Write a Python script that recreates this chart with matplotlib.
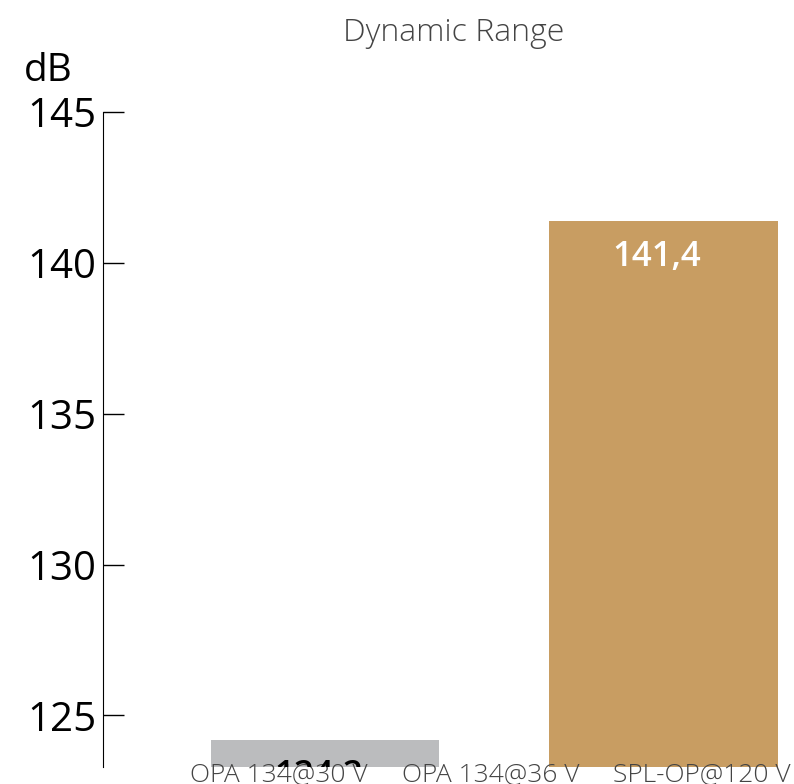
import matplotlib
matplotlib.use("Agg")
import matplotlib.pyplot as plt
import numpy as np

# chart data
categories = ["OPA 134@30 V", "OPA 134@36 V", "SPL-OP@120 V"]
values = [124.2, 123.0, 141.4]
value_labels = ["124,2", "123,0", "141,4"]
bar_colors = ["#bbbcbe", "#bbbcbe", "#c89d62"]
label_colors = ["black", "black", "white"]
y_ticks = [125, 130, 135, 140, 145]

fig = plt.figure(figsize=(7.94, 7.84), dpi=100)
ax = fig.add_axes([0.13, 0.022, 0.87, 0.835])

idx = np.arange(len(categories))
bar_x = 0.217 + 0.8 * idx
ax.bar(bar_x, values, width=1.08, color=bar_colors, zorder=1)

# value labels inside the top of each bar
for x, v, lab, c in zip(bar_x, values, value_labels, label_colors):
    ax.text(x - 0.03, v - 0.65, lab, ha="center", va="top", fontsize=25,
            color=c, fontweight="semibold", family="Open Sans", clip_on=True)

ax.set_ylim(123.3, 145)
ax.set_xlim(-0.832, 2.435)
ax.set_yticks(y_ticks)
ax.set_yticklabels([str(t) for t in y_ticks], fontsize=29, family="Open Sans")
ax.set_xticks(idx)
ax.set_xticklabels(categories, fontsize=19, color="#444444",
                   family="Open Sans", fontweight="light")
ax.tick_params(axis="y", direction="in", length=15, width=1, pad=5)
ax.tick_params(axis="x", length=0, pad=-3)

for s in ["top", "right", "bottom"]:
    ax.spines[s].set_visible(False)

fig.text(0.572, 0.958, "Dynamic Range", ha="center", va="center",
         fontsize=23, color="#444444", family="Open Sans", fontweight="light")
fig.text(0.03, 0.91, "dB", ha="left", va="center", fontsize=28,
         family="Open Sans")

fig.savefig("out.png", dpi=100)
